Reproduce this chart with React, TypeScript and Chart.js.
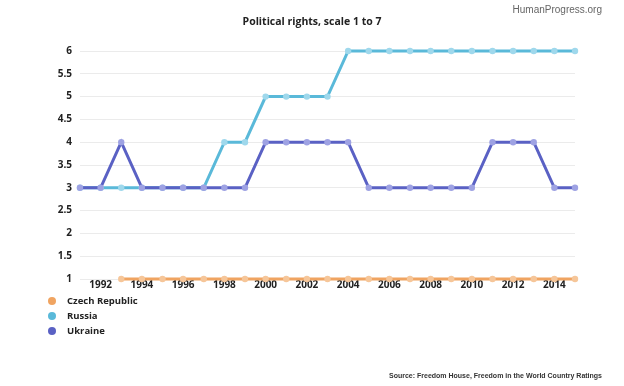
import React, { useEffect, useRef } from "react";
import { Chart, registerables } from "chart.js";

Chart.register(...registerables);

const years = [
  "1991", "1992", "1993", "1994", "1995", "1996", "1997", "1998", "1999", "2000",
  "2001", "2002", "2003", "2004", "2005", "2006", "2007", "2008", "2009", "2010",
  "2011", "2012", "2013", "2014", "2015",
];
const czech = [null, null, 1, 1, 1, 1, 1, 1, 1, 1, 1, 1, 1, 1, 1, 1, 1, 1, 1, 1, 1, 1, 1, 1, 1];
const russia = [3, 3, 3, 3, 3, 3, 3, 4, 4, 5, 5, 5, 5, 6, 6, 6, 6, 6, 6, 6, 6, 6, 6, 6, 6];
const ukraine = [3, 3, 4, 3, 3, 3, 3, 3, 3, 4, 4, 4, 4, 4, 3, 3, 3, 3, 3, 3, 4, 4, 4, 3, 3];
const titleText = "Political rights, scale 1 to 7";
const brandText = "HumanProgress.org";
const sourceText = "Source: Freedom House, Freedom in the World Country Ratings";

const FONT = "'Open Sans', sans-serif";

const extrasPlugin = {
  id: "extras",
  afterDraw(chart: any) {
    const ctx = chart.ctx;
    ctx.save();
    ctx.textBaseline = "middle";
    // title
    ctx.fillStyle = "#222";
    ctx.font = `bold 10.5px ${FONT}`;
    ctx.textAlign = "center";
    ctx.fillText(titleText, 312, 22);
    // brand
    ctx.fillStyle = "#666";
    ctx.font = `10px 'Liberation Sans', sans-serif`;
    ctx.textAlign = "right";
    ctx.fillText(brandText, 602, 10);
    // source
    ctx.fillStyle = "#333";
    ctx.font = `bold 7px 'Liberation Sans', sans-serif`;
    ctx.fillText(sourceText, 602, 376);
    // legend
    ctx.textAlign = "left";
    ctx.font = `bold 9.5px ${FONT}`;
    chart.data.datasets.forEach((ds: any, i: number) => {
      const y = 301 + i * 15;
      ctx.beginPath();
      ctx.fillStyle = ds.borderColor;
      ctx.arc(52, y, 4, 0, Math.PI * 2);
      ctx.fill();
      ctx.fillStyle = "#222";
      ctx.fillText(ds.label, 67, y + 0.5);
    });
    ctx.restore();
  },
};

export default function App() {
  const ref = useRef<HTMLCanvasElement>(null);
  useEffect(() => {
    document.body.style.margin = "0";
    const mk = (label: string, data: any[], color: string, pt: string, order: number) => ({
      label,
      data,
      order,
      borderColor: color,
      backgroundColor: color,
      borderWidth: 3,
      pointRadius: 3.2,
      pointBorderWidth: 0,
      pointBackgroundColor: pt,
      pointHoverRadius: 3,
      tension: 0,
      spanGaps: false,
      clip: false as any,
    });
    const chart = new Chart(ref.current!, {
      type: "line",
      data: {
        labels: years,
        datasets: [
          mk("Czech Republic", czech, "#f0a461", "#f6c699", 2),
          mk("Russia", russia, "#5ab9d9", "#9fd8ec", 1),
          mk("Ukraine", ukraine, "#5a61c4", "#9ea2e3", 0),
        ],
      },
      options: {
        animation: false,
        responsive: false,
        layout: { padding: { top: 51, bottom: 87, left: 0, right: 49 } },
        plugins: {
          legend: { display: false },
          title: { display: false },
          tooltip: { enabled: false },
        },
        scales: {
          x: {
            offset: false,
            grid: { display: false, drawTicks: false },
            border: { display: false },
            ticks: {
              autoSkip: false,
              maxRotation: 0,
              padding: 0,
              color: "#222",
              font: { family: FONT, size: 10, weight: "bold" },
              callback: (v: any, i: number) => (Number(years[i]) % 2 === 0 ? years[i] : ""),
            },
            afterFit: (s: any) => {
              s.height = 20;
            },
          },
          y: {
            min: 1,
            max: 6,
            grid: { color: "#ebebeb", lineWidth: 1, drawTicks: false },
            border: { display: false },
            ticks: {
              stepSize: 0.5,
              padding: 8,
              color: "#222",
              font: { family: FONT, size: 10, weight: "bold" },
              callback: (v: any) => String(Number(v)),
            },
            afterFit: (s: any) => {
              s.width = 80;
            },
          },
        },
      },
      plugins: [extrasPlugin],
    });
    return () => chart.destroy();
  }, []);
  return <canvas ref={ref} width={624} height={386} style={{ display: "block" }} />;
}
